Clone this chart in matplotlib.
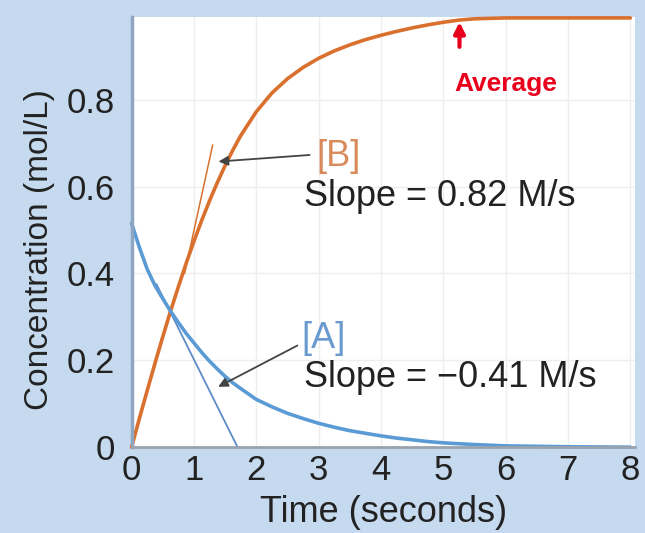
import numpy as np
import matplotlib
matplotlib.use("Agg")
import matplotlib.pyplot as plt

plt.rcParams['font.family'] = ['Liberation Sans', 'DejaVu Sans']

# values
time = [0, 0.125, 0.25, 0.375, 0.5, 0.625, 0.75, 0.875, 1.0, 1.125, 1.25, 1.375, 1.5,
        1.625, 1.75, 2.0, 2.25, 2.5, 2.75, 3.0, 3.25, 3.5, 3.75, 4.0, 4.25, 4.5,
        4.75, 5.0, 5.25, 5.5, 6.0, 7.0, 8.0]
conc_a = [0.515, 0.46, 0.41, 0.372, 0.342, 0.313, 0.287, 0.262, 0.24, 0.218, 0.198, 0.18, 0.163,
          0.148, 0.135, 0.11, 0.093, 0.078, 0.066, 0.055, 0.046, 0.038, 0.032, 0.026, 0.021, 0.017,
          0.013, 0.01, 0.008, 0.006, 0.003, 0.001, 0.0]
conc_b = [0.0, 0.066, 0.13, 0.193, 0.254, 0.313, 0.369, 0.423, 0.474, 0.522, 0.567, 0.609, 0.648,
          0.684, 0.717, 0.772, 0.815, 0.848, 0.874, 0.895, 0.912, 0.926, 0.938, 0.948, 0.957, 0.965,
          0.972, 0.978, 0.983, 0.986, 0.988, 0.988, 0.988]

tan_a_t = [0.4, 1.70]
tan_a_c = [0.375, 0.0]
tan_b_t = [0.85, 1.30]
tan_b_c = [0.40, 0.695]

x_ticks = [0, 1, 2, 3, 4, 5, 6, 7, 8]
y_ticks = [0, 0.2, 0.4, 0.6, 0.8]
y_labels = ['0', '0.2', '0.4', '0.6', '0.8']

bg = '#c6daef'
orange = '#d9702e'
blue = '#5b9bd5'
ink = '#222222'

fig = plt.figure(figsize=(6.45, 5.33), dpi=100, facecolor=bg)
ax = fig.add_axes([0.204, 0.161, 0.78, 0.807])
ax.set_facecolor('white')

ax.grid(True, color='#eeeeee', linewidth=1.0)
ax.set_axisbelow(True)

ax.plot(tan_b_t, tan_b_c, color=orange, linewidth=1.1)
ax.plot(tan_a_t, tan_a_c, color='#5d8cc8', linewidth=1.3)
ax.plot(time, conc_b, color=orange, linewidth=2.6, clip_on=False, solid_capstyle='round')
ax.plot(time, conc_a, color=blue, linewidth=2.6, clip_on=False, solid_capstyle='round')

ax.set_xlim(0, 8.07)
ax.set_ylim(0, 0.99)
ax.set_xticks(x_ticks)
ax.set_yticks(y_ticks)
ax.set_yticklabels(y_labels)
ax.tick_params(length=0, labelsize=25, colors=ink)
ax.tick_params(axis='x', pad=5)
ax.tick_params(axis='y', pad=12)

for s in ['top', 'right']:
    ax.spines[s].set_visible(False)
ax.spines['left'].set_color('#8ea6c2')
ax.spines['left'].set_linewidth(2.5)
ax.spines['bottom'].set_color('#9aa3ad')
ax.spines['bottom'].set_linewidth(2)

ax.set_xlabel('Time (seconds)', fontsize=26, color=ink, labelpad=6)
ax.set_ylabel('Concentration (mol/L)', fontsize=24, color=ink)
ax.yaxis.set_label_coords(-0.152, 0.46)

# annotations
ax.annotate('', xy=(1.35, 0.657), xytext=(2.9, 0.673),
            arrowprops=dict(arrowstyle='-|>', color='#444444', lw=1.3, mutation_scale=14))
ax.annotate('', xy=(1.35, 0.136), xytext=(2.7, 0.237),
            arrowprops=dict(arrowstyle='-|>', color='#444444', lw=1.3, mutation_scale=14))
ax.text(2.97, 0.668, '[B]', color='#d98a5a', fontsize=26, va='center')
ax.text(2.77, 0.576, 'Slope = 0.82 M/s', color=ink, fontsize=26, va='center')
ax.text(2.73, 0.250, '[A]', color='#6a9bd0', fontsize=26, va='center')
ax.text(2.77, 0.161, 'Slope = \u22120.41 M/s', color=ink, fontsize=26, va='center')

ax.annotate('', xy=(5.26, 0.985), xytext=(5.26, 0.915),
            arrowprops=dict(arrowstyle='-|>', color='#e8001c', lw=3, mutation_scale=16))
ax.text(6.0, 0.836, 'Average', color='#e8001c', fontsize=19, fontweight='bold',
        ha='center', va='center')

fig.savefig('out.png', dpi=100, facecolor=bg)
